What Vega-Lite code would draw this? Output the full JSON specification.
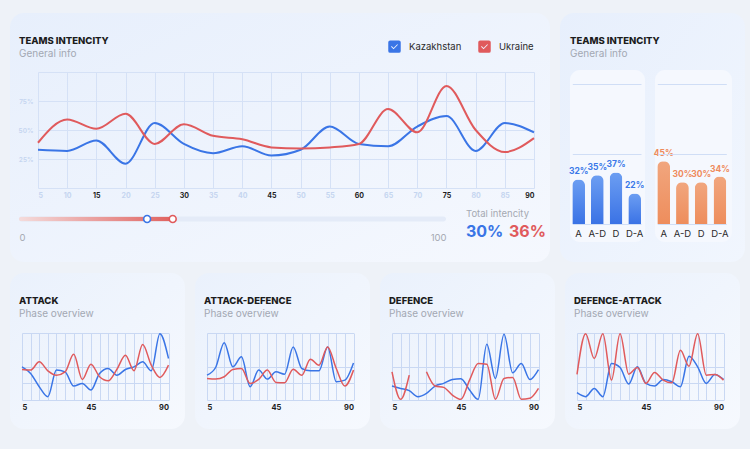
{
  "$schema": "https://vega.github.io/schema/vega-lite/v6.json",
  "background": "#eef2f8",
  "padding": {"left": 10, "top": 13, "right": 5, "bottom": 20},
  "autosize": {"type": "pad"},
  "config": {
    "font": "Inter",
    "view": {"stroke": null},
    "title": {"fontSize": 9.5, "fontWeight": 800, "color": "#1c1c1c", "subtitleFontSize": 10, "subtitleColor": "#a3a8b3", "subtitlePadding": 4, "anchor": "start", "frame": "group"},
    "axis": {"domain": false, "ticks": false, "title": null, "gridColor": "#d5e1f6", "gridWidth": 1, "labelOverlap": false, "labelFont": "Inter"},
    "legend": {"labelFont": "Inter"}
  },
  "datasets": {
    "timeline": [
      {"minute": 5, "Kazakhstan": 33, "Ukraine": 39},
      {"minute": 10, "Kazakhstan": 32, "Ukraine": 59},
      {"minute": 15, "Kazakhstan": 41, "Ukraine": 51},
      {"minute": 20, "Kazakhstan": 21, "Ukraine": 64},
      {"minute": 25, "Kazakhstan": 56, "Ukraine": 38},
      {"minute": 30, "Kazakhstan": 38, "Ukraine": 55},
      {"minute": 35, "Kazakhstan": 30, "Ukraine": 45},
      {"minute": 40, "Kazakhstan": 36, "Ukraine": 42},
      {"minute": 45, "Kazakhstan": 28, "Ukraine": 35},
      {"minute": 50, "Kazakhstan": 33, "Ukraine": 34},
      {"minute": 55, "Kazakhstan": 53, "Ukraine": 35},
      {"minute": 60, "Kazakhstan": 38, "Ukraine": 38},
      {"minute": 65, "Kazakhstan": 36, "Ukraine": 68},
      {"minute": 70, "Kazakhstan": 53, "Ukraine": 48},
      {"minute": 75, "Kazakhstan": 62, "Ukraine": 88},
      {"minute": 80, "Kazakhstan": 32, "Ukraine": 50},
      {"minute": 85, "Kazakhstan": 56, "Ukraine": 31},
      {"minute": 90, "Kazakhstan": 48, "Ukraine": 43}
    ],
    "totals": [
      {"team": "Kazakhstan", "total": 30},
      {"team": "Ukraine", "total": 36}
    ],
    "phases": [
      {"team": "Kazakhstan", "phase": "A", "intensity": 32},
      {"team": "Kazakhstan", "phase": "A-D", "intensity": 35},
      {"team": "Kazakhstan", "phase": "D", "intensity": 37},
      {"team": "Kazakhstan", "phase": "D-A", "intensity": 22},
      {"team": "Ukraine", "phase": "A", "intensity": 45},
      {"team": "Ukraine", "phase": "A-D", "intensity": 30},
      {"team": "Ukraine", "phase": "D", "intensity": 30},
      {"team": "Ukraine", "phase": "D-A", "intensity": 34}
    ],
    "phaseLines": [
      {"phase": "ATTACK", "minute": 5, "Kazakhstan": 49.5, "Ukraine": 45.5},
      {"phase": "ATTACK", "minute": 10, "Kazakhstan": 39.6, "Ukraine": 44.6},
      {"phase": "ATTACK", "minute": 15, "Kazakhstan": 19.8, "Ukraine": 57},
      {"phase": "ATTACK", "minute": 20, "Kazakhstan": 5, "Ukraine": 43.6},
      {"phase": "ATTACK", "minute": 25, "Kazakhstan": 44.6, "Ukraine": 37},
      {"phase": "ATTACK", "minute": 30, "Kazakhstan": 42, "Ukraine": 42},
      {"phase": "ATTACK", "minute": 35, "Kazakhstan": 20.8, "Ukraine": 68.3},
      {"phase": "ATTACK", "minute": 40, "Kazakhstan": 24.8, "Ukraine": 30.7},
      {"phase": "ATTACK", "minute": 45, "Kazakhstan": 14.9, "Ukraine": 53.5},
      {"phase": "ATTACK", "minute": 50, "Kazakhstan": 39.6, "Ukraine": 34.7},
      {"phase": "ATTACK", "minute": 55, "Kazakhstan": 47, "Ukraine": 28.7},
      {"phase": "ATTACK", "minute": 60, "Kazakhstan": 37, "Ukraine": 45.5},
      {"phase": "ATTACK", "minute": 65, "Kazakhstan": 45.5, "Ukraine": 66.8},
      {"phase": "ATTACK", "minute": 70, "Kazakhstan": 49.5, "Ukraine": 43.6},
      {"phase": "ATTACK", "minute": 75, "Kazakhstan": 57, "Ukraine": 82.7},
      {"phase": "ATTACK", "minute": 80, "Kazakhstan": 43.6, "Ukraine": 52},
      {"phase": "ATTACK", "minute": 85, "Kazakhstan": 99, "Ukraine": 33.7},
      {"phase": "ATTACK", "minute": 90, "Kazakhstan": 62, "Ukraine": 52},
      {"phase": "ATTACK-DEFENCE", "minute": 5, "Kazakhstan": 37.1, "Ukraine": 32.2},
      {"phase": "ATTACK-DEFENCE", "minute": 10, "Kazakhstan": 48.5, "Ukraine": 31.2},
      {"phase": "ATTACK-DEFENCE", "minute": 15, "Kazakhstan": 85.6, "Ukraine": 34.7},
      {"phase": "ATTACK-DEFENCE", "minute": 20, "Kazakhstan": 49.5, "Ukraine": 45.5},
      {"phase": "ATTACK-DEFENCE", "minute": 25, "Kazakhstan": 64.4, "Ukraine": 47},
      {"phase": "ATTACK-DEFENCE", "minute": 30, "Kazakhstan": 19.8, "Ukraine": 24.8},
      {"phase": "ATTACK-DEFENCE", "minute": 35, "Kazakhstan": 44.6, "Ukraine": 30.7},
      {"phase": "ATTACK-DEFENCE", "minute": 40, "Kazakhstan": 31.2, "Ukraine": 44.6},
      {"phase": "ATTACK-DEFENCE", "minute": 45, "Kazakhstan": 42.1, "Ukraine": 26.2},
      {"phase": "ATTACK-DEFENCE", "minute": 50, "Kazakhstan": 38.6, "Ukraine": 25.7},
      {"phase": "ATTACK-DEFENCE", "minute": 55, "Kazakhstan": 79.2, "Ukraine": 46},
      {"phase": "ATTACK-DEFENCE", "minute": 60, "Kazakhstan": 47, "Ukraine": 37.1},
      {"phase": "ATTACK-DEFENCE", "minute": 65, "Kazakhstan": 43.6, "Ukraine": 60.9},
      {"phase": "ATTACK-DEFENCE", "minute": 70, "Kazakhstan": 43.6, "Ukraine": 52},
      {"phase": "ATTACK-DEFENCE", "minute": 75, "Kazakhstan": 79.2, "Ukraine": 79.2},
      {"phase": "ATTACK-DEFENCE", "minute": 80, "Kazakhstan": 27.2, "Ukraine": 47},
      {"phase": "ATTACK-DEFENCE", "minute": 85, "Kazakhstan": 29.7, "Ukraine": 20.8},
      {"phase": "ATTACK-DEFENCE", "minute": 90, "Kazakhstan": 55.4, "Ukraine": 44.6},
      {"phase": "DEFENCE", "minute": 5, "Kazakhstan": 20.8, "Ukraine": 42.1},
      {"phase": "DEFENCE", "minute": 10, "Kazakhstan": 17.3, "Ukraine": 1},
      {"phase": "DEFENCE", "minute": 15, "Kazakhstan": 13.9, "Ukraine": 37.1},
      {"phase": "DEFENCE", "minute": 20, "Kazakhstan": 5, "Ukraine": null},
      {"phase": "DEFENCE", "minute": 25, "Kazakhstan": 9.9, "Ukraine": 42.1},
      {"phase": "DEFENCE", "minute": 30, "Kazakhstan": 20.8, "Ukraine": 20.8},
      {"phase": "DEFENCE", "minute": 35, "Kazakhstan": 24.8, "Ukraine": 18.8},
      {"phase": "DEFENCE", "minute": 40, "Kazakhstan": 30.7, "Ukraine": 7.4},
      {"phase": "DEFENCE", "minute": 45, "Kazakhstan": 31.7, "Ukraine": 1},
      {"phase": "DEFENCE", "minute": 50, "Kazakhstan": 14.9, "Ukraine": 29.7},
      {"phase": "DEFENCE", "minute": 55, "Kazakhstan": 1, "Ukraine": 54.5},
      {"phase": "DEFENCE", "minute": 60, "Kazakhstan": 83.2, "Ukraine": 53.5},
      {"phase": "DEFENCE", "minute": 65, "Kazakhstan": 32.2, "Ukraine": 1},
      {"phase": "DEFENCE", "minute": 70, "Kazakhstan": 98, "Ukraine": 32.2},
      {"phase": "DEFENCE", "minute": 75, "Kazakhstan": 40.6, "Ukraine": 33.7},
      {"phase": "DEFENCE", "minute": 80, "Kazakhstan": 54.5, "Ukraine": 1},
      {"phase": "DEFENCE", "minute": 85, "Kazakhstan": 30.7, "Ukraine": 2.5},
      {"phase": "DEFENCE", "minute": 90, "Kazakhstan": 45.5, "Ukraine": 17.3},
      {"phase": "DEFENCE-ATTACK", "minute": 5, "Kazakhstan": 10.9, "Ukraine": 38.1},
      {"phase": "DEFENCE-ATTACK", "minute": 10, "Kazakhstan": 5, "Ukraine": 99},
      {"phase": "DEFENCE-ATTACK", "minute": 15, "Kazakhstan": 17.3, "Ukraine": 61.9},
      {"phase": "DEFENCE-ATTACK", "minute": 20, "Kazakhstan": 5, "Ukraine": 99},
      {"phase": "DEFENCE-ATTACK", "minute": 25, "Kazakhstan": 54.5, "Ukraine": 29.7},
      {"phase": "DEFENCE-ATTACK", "minute": 30, "Kazakhstan": 48.5, "Ukraine": 99},
      {"phase": "DEFENCE-ATTACK", "minute": 35, "Kazakhstan": 23.8, "Ukraine": 38.6},
      {"phase": "DEFENCE-ATTACK", "minute": 40, "Kazakhstan": 49.5, "Ukraine": 48.5},
      {"phase": "DEFENCE-ATTACK", "minute": 45, "Kazakhstan": 24.8, "Ukraine": 24.8},
      {"phase": "DEFENCE-ATTACK", "minute": 50, "Kazakhstan": 20.8, "Ukraine": 41.1},
      {"phase": "DEFENCE-ATTACK", "minute": 55, "Kazakhstan": 30.7, "Ukraine": 29.7},
      {"phase": "DEFENCE-ATTACK", "minute": 60, "Kazakhstan": 27.2, "Ukraine": 25.7},
      {"phase": "DEFENCE-ATTACK", "minute": 65, "Kazakhstan": 19.8, "Ukraine": 74.3},
      {"phase": "DEFENCE-ATTACK", "minute": 70, "Kazakhstan": 65.3, "Ukraine": 50.5},
      {"phase": "DEFENCE-ATTACK", "minute": 75, "Kazakhstan": 49.5, "Ukraine": 99},
      {"phase": "DEFENCE-ATTACK", "minute": 80, "Kazakhstan": 24.8, "Ukraine": 37.1},
      {"phase": "DEFENCE-ATTACK", "minute": 85, "Kazakhstan": 38.1, "Ukraine": 38.1},
      {"phase": "DEFENCE-ATTACK", "minute": 90, "Kazakhstan": 30.7, "Ukraine": 29.7}
    ]
  },
  "spacing": 11,
  "resolve": {"scale": {"color": "independent"}},
  "vconcat": [
    {
      "spacing": 10,
      "resolve": {"scale": {"color": "independent"}},
      "hconcat": [
        {
          "width": 540, "height": 249,
          "view": {"cornerRadius": 14, "fill": {"gradient": "linear", "x1": 0, "y1": 0, "x2": 1, "y2": 1, "stops": [{"offset": 0, "color": "#e7effc"}, {"offset": 1, "color": "#f5f8fe"}]}},
          "title": {"text": "TEAMS INTENCITY", "subtitle": "General info", "offset": -46, "dx": 9},
          "resolve": {"scale": {"x": "independent", "y": "independent"}},
          "layer": [
            {
              "data": {"name": "timeline"},
              "transform": [{"fold": ["Kazakhstan", "Ukraine"], "as": ["team", "value"]}],
              "mark": {"type": "line", "interpolate": "monotone", "strokeWidth": 2},
              "encoding": {
                "x": {"field": "minute", "type": "quantitative",
                  "scale": {"domain": [5, 90], "range": [28, 524], "nice": false, "zero": false},
                  "axis": {"orient": "top", "offset": -185, "values": [5, 10, 15, 20, 25, 30, 35, 40, 45, 50, 55, 60, 65, 70, 75, 80, 85, 90], "labelPadding": 0, "labelFontSize": 7, "labelFontWeight": "bold", "labelColor": {"condition": {"test": "datum.value % 15 === 0", "value": "#1d1d1d"}, "value": "#c5d5f0"}, "grid": true}},
                "y": {"field": "value", "type": "quantitative",
                  "scale": {"domain": [0, 100], "range": [175, 59], "nice": false},
                  "axis": {"orient": "left", "offset": -28, "values": [0, 25, 50, 75, 100], "labelExpr": "datum.value > 0 && datum.value < 100 ? datum.value + '%' : ''", "labelPadding": 5, "labelFontSize": 6.5, "labelFontWeight": 600, "labelColor": "#c5d5f0", "grid": true}},
                "color": {"field": "team", "type": "nominal",
                  "scale": {"domain": ["Kazakhstan", "Ukraine"], "range": ["#3a75e6", "#e05a5c"]},
                  "legend": {"orient": "none", "legendX": 378, "legendY": 27, "direction": "horizontal", "title": null, "padding": 0,
                    "symbolType": "M -0.7 -1 L 0.7 -1 Q 1 -1 1 -0.7 L 1 0.7 Q 1 1 0.7 1 L -0.7 1 Q -1 1 -1 0.7 L -1 -0.7 Q -1 -1 -0.7 -1 Z M -0.55 0 L -0.15 0.4 L 0.55 -0.3 L 0.45 -0.4 L -0.15 0.2 L -0.45 -0.1 Z",
                    "symbolSize": 156, "symbolStrokeWidth": 0, "labelFontSize": 9.5, "labelColor": "#2a2a2a", "labelOffset": 8, "columnPadding": 16,
                    "encode": {"symbols": {"update": {"fill": {"signal": "datum.value === 'Kazakhstan' ? '#3a75e6' : '#e05a5c'"}, "opacity": {"value": 1}}}}}}
              }
            },
            {
              "data": {"name": "totals"},
              "encoding": {
                "y": {"datum": "slider", "type": "nominal", "scale": {"type": "band", "range": [203.5, 208.5], "paddingInner": 0, "paddingOuter": 0}, "axis": null}
              },
              "layer": [
                {
                  "transform": [{"filter": "datum.team === 'Ukraine'"}],
                  "mark": {"type": "bar", "color": "#e4ebf8", "cornerRadius": 2.5, "orient": "horizontal"},
                  "encoding": {
                    "x": {"datum": 100, "type": "quantitative",
                      "scale": {"domain": [0, 100], "range": [9, 436], "nice": false, "zero": true},
                      "axis": {"orient": "bottom", "offset": -30, "values": [0, 100], "labelFlush": true, "labelPadding": 0, "labelFontSize": 9.5, "labelFontWeight": "normal", "labelColor": "#a5a9b2", "grid": false}}
                  }
                },
                {
                  "transform": [{"filter": "datum.team === 'Ukraine'"}],
                  "mark": {"type": "bar", "cornerRadius": 2.5, "orient": "horizontal", "color": {"gradient": "linear", "x1": 0, "y1": 0, "x2": 1, "y2": 0, "stops": [{"offset": 0, "color": "#f4dcdc"}, {"offset": 1, "color": "#e0625f"}]}},
                  "encoding": {
                    "x": {"field": "total", "type": "quantitative"}
                  }
                },
                {
                  "mark": {"type": "circle", "size": 48, "fill": "#ffffff", "strokeWidth": 1.6, "opacity": 1},
                  "encoding": {
                    "x": {"field": "total", "type": "quantitative"},
                    "stroke": {"field": "team", "type": "nominal", "scale": {"domain": ["Kazakhstan", "Ukraine"], "range": ["#3a75e6", "#e05a5c"]}, "legend": null}
                  }
                }
              ]
            },
            {
              "data": {"name": "totals"},
              "encoding": {
                "x": {"field": "team", "type": "nominal", "scale": {"type": "point", "domain": ["Kazakhstan", "Ukraine"], "range": [456, 499], "padding": 0}, "axis": null},
                "y": {"datum": "value", "type": "nominal", "scale": {"type": "point", "domain": ["caption", "value"], "range": [201, 219], "padding": 0}, "axis": null}
              },
              "layer": [
                {
                  "transform": [{"filter": "datum.team === 'Kazakhstan'"}],
                  "mark": {"type": "text", "text": "Total intencity", "align": "left", "baseline": "middle", "fontSize": 9.5, "color": "#a5a9b2"},
                  "encoding": {"y": {"datum": "caption", "type": "nominal"}}
                },
                {
                  "mark": {"type": "text", "text": {"expr": "datum.total + '%'"}, "align": "left", "baseline": "middle", "fontSize": 16, "fontWeight": "bold"},
                  "encoding": {"color": {"field": "team", "type": "nominal", "legend": null}}
                }
              ]
            }
          ]
        },
        {
          "width": 185, "height": 249,
          "view": {"cornerRadius": 14, "fill": {"gradient": "linear", "x1": 0, "y1": 0, "x2": 1, "y2": 1, "stops": [{"offset": 0, "color": "#e7effc"}, {"offset": 1, "color": "#f1f6fe"}]}},
          "title": {"text": "TEAMS INTENCITY", "subtitle": "General info", "offset": -46, "dx": 10},
          "data": {"name": "phases"},
          "resolve": {"scale": {"x": "independent", "y": "independent"}},
          "layer": [
            {
              "transform": [{"filter": "datum.team === 'Kazakhstan' && datum.phase === 'A'"}],
              "mark": {"type": "bar", "orient": "horizontal", "cornerRadius": 10, "color": "#f5f8fe"},
              "encoding": {
                "x": {"datum": 1, "type": "quantitative", "scale": {"domain": [0, 1], "range": [10, 85], "zero": true, "nice": false}, "axis": null},
                "y": {"datum": "panel", "type": "nominal", "scale": {"type": "band", "range": [57, 229], "paddingInner": 0, "paddingOuter": 0}, "axis": null}
              }
            },
            {
              "transform": [{"filter": "datum.team === 'Ukraine' && datum.phase === 'A'"}],
              "mark": {"type": "bar", "orient": "horizontal", "cornerRadius": 10, "color": "#f5f8fe"},
              "encoding": {
                "x": {"datum": 1, "type": "quantitative", "scale": {"domain": [0, 1], "range": [95, 172], "zero": true, "nice": false}, "axis": null},
                "y": {"datum": "panel", "type": "nominal", "scale": {"type": "band", "range": [57, 229], "paddingInner": 0, "paddingOuter": 0}, "axis": null}
              }
            },
            {
              "transform": [{"filter": "datum.team === 'Kazakhstan'"}],
              "encoding": {
                "x": {"field": "phase", "type": "nominal", "sort": ["A", "A-D", "D", "D-A"],
                  "scale": {"type": "band", "range": [12.3, 81], "paddingInner": 0.32, "paddingOuter": 0},
                  "axis": {"orient": "bottom", "offset": -37.7, "labelPadding": 4, "labelAngle": 0, "labelFontSize": 9.5, "labelColor": "#2a2a2a", "grid": false, "zindex": 2}},
                "y": {"field": "intensity", "type": "quantitative",
                  "scale": {"domain": [0, 100], "range": [211.3, 71], "nice": false},
                  "axis": {"orient": "left", "values": [0, 50, 100], "labels": false, "grid": true, "gridColor": "#d0def6", "zindex": 2}}
              },
              "layer": [
                {
                  "mark": {"type": "bar", "cornerRadiusEnd": 6, "color": {"gradient": "linear", "x1": 0, "y1": 0, "x2": 0, "y2": 1, "stops": [{"offset": 0, "color": "#6c9ef2"}, {"offset": 1, "color": "#3a72e5"}]}}
                },
                {
                  "mark": {"type": "text", "text": {"expr": "datum.intensity + '%'"}, "baseline": "bottom", "dy": -3, "fontSize": 8.5, "fontWeight": "bold", "color": "#3b78e8"}
                }
              ]
            },
            {
              "transform": [{"filter": "datum.team === 'Ukraine'"}],
              "encoding": {
                "x": {"field": "phase", "type": "nominal", "sort": ["A", "A-D", "D", "D-A"],
                  "scale": {"type": "band", "range": [97.3, 166.3], "paddingInner": 0.32, "paddingOuter": 0},
                  "axis": {"orient": "bottom", "offset": -37.7, "labelPadding": 4, "labelAngle": 0, "labelFontSize": 9.5, "labelColor": "#2a2a2a", "grid": false, "zindex": 2}},
                "y": {"field": "intensity", "type": "quantitative",
                  "scale": {"domain": [0, 100], "range": [211.3, 71], "nice": false},
                  "axis": {"orient": "left", "values": [0, 50, 100], "labels": false, "grid": true, "gridColor": "#d0def6", "zindex": 2}}
              },
              "layer": [
                {
                  "mark": {"type": "bar", "cornerRadiusEnd": 6, "color": {"gradient": "linear", "x1": 0, "y1": 0, "x2": 0, "y2": 1, "stops": [{"offset": 0, "color": "#f1a67e"}, {"offset": 1, "color": "#ee8d5c"}]}}
                },
                {
                  "mark": {"type": "text", "text": {"expr": "datum.intensity + '%'"}, "baseline": "bottom", "dy": -3, "fontSize": 8.5, "fontWeight": "bold", "color": "#ef8a5b"}
                }
              ]
            }
          ]
        }
      ]
    },
    {
      "spacing": 10,
      "resolve": {"scale": {"color": "independent"}},
      "hconcat": [
        {
          "width": 175, "height": 156,
          "view": {"cornerRadius": 14, "fill": {"gradient": "linear", "x1": 0, "y1": 0, "x2": 1, "y2": 1, "stops": [{"offset": 0, "color": "#eaf1fc"}, {"offset": 1, "color": "#f6f9fe"}]}},
          "title": {"text": "ATTACK", "subtitle": "Phase overview", "offset": -46, "dx": 9},
          "data": {"name": "phaseLines"},
          "transform": [{"filter": "datum.phase === 'ATTACK'"}, {"fold": ["Kazakhstan", "Ukraine"], "as": ["team", "value"]}],
          "mark": {"type": "line", "interpolate": "monotone", "strokeWidth": 1.5, "invalid": "break-paths-show-domains"},
          "encoding": {
            "x": {"field": "minute", "type": "quantitative", "scale": {"domain": [5, 90], "range": [12, 158.5], "nice": false, "zero": false},
              "axis": {"orient": "top", "offset": -138, "values": [5, 10, 15, 20, 25, 30, 35, 40, 45, 50, 55, 60, 65, 70, 75, 80, 85, 90], "labelExpr": "datum.value === 5 || datum.value === 45 || datum.value === 90 ? datum.label : ''", "labelPadding": 0, "labelFontSize": 7.5, "labelFontWeight": "bold", "labelColor": "#1a1a1a", "grid": true, "gridColor": "#c9d8f3"}},
            "y": {"field": "value", "type": "quantitative", "scale": {"domain": [0, 100], "range": [127, 60], "nice": false},
              "axis": {"values": [0, 25, 50, 100], "labels": false, "grid": true, "gridColor": "#c9d8f3"}},
            "color": {"field": "team", "type": "nominal", "scale": {"domain": ["Kazakhstan", "Ukraine"], "range": ["#3a75e6", "#e05a5c"]}, "legend": null}
          }
        },
        {
          "width": 175, "height": 156,
          "view": {"cornerRadius": 14, "fill": {"gradient": "linear", "x1": 0, "y1": 0, "x2": 1, "y2": 1, "stops": [{"offset": 0, "color": "#eaf1fc"}, {"offset": 1, "color": "#f6f9fe"}]}},
          "title": {"text": "ATTACK-DEFENCE", "subtitle": "Phase overview", "offset": -46, "dx": 9},
          "data": {"name": "phaseLines"},
          "transform": [{"filter": "datum.phase === 'ATTACK-DEFENCE'"}, {"fold": ["Kazakhstan", "Ukraine"], "as": ["team", "value"]}],
          "mark": {"type": "line", "interpolate": "monotone", "strokeWidth": 1.5, "invalid": "break-paths-show-domains"},
          "encoding": {
            "x": {"field": "minute", "type": "quantitative", "scale": {"domain": [5, 90], "range": [12, 158.5], "nice": false, "zero": false},
              "axis": {"orient": "top", "offset": -138, "values": [5, 10, 15, 20, 25, 30, 35, 40, 45, 50, 55, 60, 65, 70, 75, 80, 85, 90], "labelExpr": "datum.value === 5 || datum.value === 45 || datum.value === 90 ? datum.label : ''", "labelPadding": 0, "labelFontSize": 7.5, "labelFontWeight": "bold", "labelColor": "#1a1a1a", "grid": true, "gridColor": "#c9d8f3"}},
            "y": {"field": "value", "type": "quantitative", "scale": {"domain": [0, 100], "range": [127, 60], "nice": false},
              "axis": {"values": [0, 25, 50, 100], "labels": false, "grid": true, "gridColor": "#c9d8f3"}},
            "color": {"field": "team", "type": "nominal", "scale": {"domain": ["Kazakhstan", "Ukraine"], "range": ["#3a75e6", "#e05a5c"]}, "legend": null}
          }
        },
        {
          "width": 175, "height": 156,
          "view": {"cornerRadius": 14, "fill": {"gradient": "linear", "x1": 0, "y1": 0, "x2": 1, "y2": 1, "stops": [{"offset": 0, "color": "#eaf1fc"}, {"offset": 1, "color": "#f6f9fe"}]}},
          "title": {"text": "DEFENCE", "subtitle": "Phase overview", "offset": -46, "dx": 9},
          "data": {"name": "phaseLines"},
          "transform": [{"filter": "datum.phase === 'DEFENCE'"}, {"fold": ["Kazakhstan", "Ukraine"], "as": ["team", "value"]}],
          "mark": {"type": "line", "interpolate": "monotone", "strokeWidth": 1.5, "invalid": "break-paths-show-domains"},
          "encoding": {
            "x": {"field": "minute", "type": "quantitative", "scale": {"domain": [5, 90], "range": [12, 158.5], "nice": false, "zero": false},
              "axis": {"orient": "top", "offset": -138, "values": [5, 10, 15, 20, 25, 30, 35, 40, 45, 50, 55, 60, 65, 70, 75, 80, 85, 90], "labelExpr": "datum.value === 5 || datum.value === 45 || datum.value === 90 ? datum.label : ''", "labelPadding": 0, "labelFontSize": 7.5, "labelFontWeight": "bold", "labelColor": "#1a1a1a", "grid": true, "gridColor": "#c9d8f3"}},
            "y": {"field": "value", "type": "quantitative", "scale": {"domain": [0, 100], "range": [127, 60], "nice": false},
              "axis": {"values": [0, 25, 50, 100], "labels": false, "grid": true, "gridColor": "#c9d8f3"}},
            "color": {"field": "team", "type": "nominal", "scale": {"domain": ["Kazakhstan", "Ukraine"], "range": ["#3a75e6", "#e05a5c"]}, "legend": null}
          }
        },
        {
          "width": 175, "height": 156,
          "view": {"cornerRadius": 14, "fill": {"gradient": "linear", "x1": 0, "y1": 0, "x2": 1, "y2": 1, "stops": [{"offset": 0, "color": "#eaf1fc"}, {"offset": 1, "color": "#f6f9fe"}]}},
          "title": {"text": "DEFENCE-ATTACK", "subtitle": "Phase overview", "offset": -46, "dx": 9},
          "data": {"name": "phaseLines"},
          "transform": [{"filter": "datum.phase === 'DEFENCE-ATTACK'"}, {"fold": ["Kazakhstan", "Ukraine"], "as": ["team", "value"]}],
          "mark": {"type": "line", "interpolate": "monotone", "strokeWidth": 1.5, "invalid": "break-paths-show-domains"},
          "encoding": {
            "x": {"field": "minute", "type": "quantitative", "scale": {"domain": [5, 90], "range": [12, 158.5], "nice": false, "zero": false},
              "axis": {"orient": "top", "offset": -138, "values": [5, 10, 15, 20, 25, 30, 35, 40, 45, 50, 55, 60, 65, 70, 75, 80, 85, 90], "labelExpr": "datum.value === 5 || datum.value === 45 || datum.value === 90 ? datum.label : ''", "labelPadding": 0, "labelFontSize": 7.5, "labelFontWeight": "bold", "labelColor": "#1a1a1a", "grid": true, "gridColor": "#c9d8f3"}},
            "y": {"field": "value", "type": "quantitative", "scale": {"domain": [0, 100], "range": [127, 60], "nice": false},
              "axis": {"values": [0, 25, 50, 100], "labels": false, "grid": true, "gridColor": "#c9d8f3"}},
            "color": {"field": "team", "type": "nominal", "scale": {"domain": ["Kazakhstan", "Ukraine"], "range": ["#3a75e6", "#e05a5c"]}, "legend": null}
          }
        }
      ]
    }
  ]
}
